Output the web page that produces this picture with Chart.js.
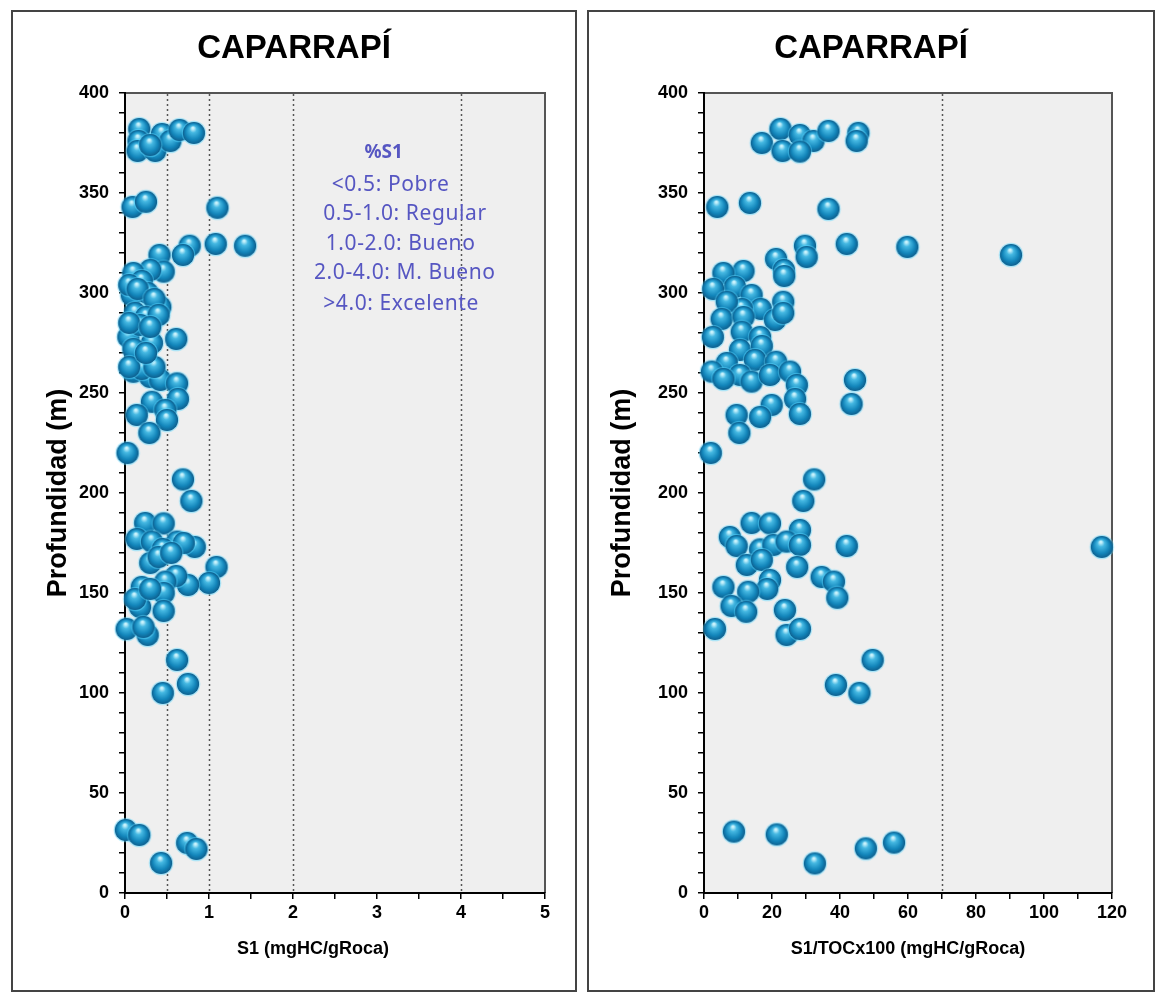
<!DOCTYPE html>
<html>
<head>
<meta charset="utf-8">
<script src="https://cdn.jsdelivr.net/npm/chart.js@4.4.1/dist/chart.umd.min.js"></script>
<style>
  body { margin: 0; background: #fff; width: 1168px; height: 1007px; position: relative; }
  .panel { position: absolute; top: 10px; height: 982px; border: 2px solid #444; box-sizing: border-box; }
  .panel canvas { display: block; }
</style>
</head>
<body>
<div class="panel" style="left:11px;width:566px"><canvas id="leftChart" width="562" height="978"></canvas></div>
<div class="panel" style="left:587px;width:568px"><canvas id="rightChart" width="564" height="978"></canvas></div>
<script>
// Caparrapí - S1 vs depth
const s1Values = [0.17, 0.16, 0.15, 0.36, 0.44, 0.54, 0.65, 0.82, 0.30,
  0.09, 0.25, 1.10,
  1.08, 1.43, 0.77, 0.69, 0.41, 0.46, 0.30, 0.10, 0.20,
  0.08, 0.27, 0.42, 0.04, 0.32, 0.61, 0.22, 0.10, 0.30, 0.42, 0.62, 0.63, 0.32, 0.14, 0.48, 0.50, 0.29, 0.03,
  0.05, 0.15, 0.35, 0.12, 0.25, 0.40, 0.18, 0.05, 0.30, 0.10, 0.20, 0.35, 0.05, 0.25,
  0.69, 0.79,
  0.24, 0.46, 0.14, 0.32, 0.62, 0.83, 0.70, 0.45, 0.30, 0.40, 1.09, 0.55,
  1.00, 0.75, 0.61, 0.48, 0.20, 0.46, 0.18, 0.46, 0.02, 0.27, 0.22, 0.12, 0.30,
  0.62, 0.75, 0.45,
  0.01, 0.17, 0.43, 0.74, 0.85];
const s1Depths = [382, 376, 371, 371, 379.5, 376, 381.5, 380, 374,
  343, 345.6, 342.6,
  324.5, 323.6, 323.6, 319, 319, 310.7, 311.5, 310, 306,
  299, 300, 293, 278, 275, 277, 266.5, 260.6, 258, 256.5, 254.8, 247, 245.6, 239, 241.5, 236.5, 230, 220,
  304, 302, 297, 290, 288, 289, 284, 285, 283, 272, 262, 263, 263, 270,
  206.8, 196,
  185, 184.8, 177, 175.7, 175.7, 173, 175, 172, 165, 168, 163, 170,
  155, 154, 158.5, 155.7, 153, 150, 143, 141, 132, 129, 133, 147, 152,
  116.5, 104.5, 100,
  31.5, 29, 15, 25, 22];

// Caparrapí - S1/TOC x100 vs depth
const ratioValues = [22.5, 28.2, 32.2, 36.6, 45.4, 44.9, 17, 23.1, 28.2,
  3.9, 13.5, 36.6,
  29.7, 30.2, 42, 59.8, 90.3,
  21.2, 23.5, 23.6, 11.6, 5.7, 9.1, 2.7, 14, 23.3, 16.7, 11.1, 6.7, 5.2, 11.6, 20.9, 23.3,
  2.6, 11.1, 16.5, 10.6, 17, 15, 21.2, 6.7, 2.3, 10.6, 14, 19.4, 25.3, 27.3, 26.8, 28.2, 19.9, 16.5, 9.6, 10.4, 2, 44.4, 43.4, 5.7,
  32.4, 29.2, 14, 19.4, 28.2, 7.6, 9.6, 16.5, 20.4, 24.3, 28.2, 42, 117, 12.6, 17, 27.4, 34.6, 38.2, 39.2, 19.4, 18.6, 13, 5.7, 8.1, 12.4, 23.8, 24.3, 28.2, 3.2, 49.6, 38.8, 45.7,
  8.8, 21.4, 32.6, 47.6, 55.9];
const ratioDepths = [382, 379, 376, 381, 380, 376, 375, 371, 370.7,
  343, 345, 342,
  323.6, 318, 324.5, 323, 319,
  317, 311.5, 308.5, 311, 310, 303, 302, 299, 295.6, 292, 292, 295.6, 287, 288, 286.5, 290,
  278, 280.6, 278, 271.5, 273.5, 266.5, 265.6, 265, 260.7, 259, 255.7, 259, 260.7, 254, 247, 239.5, 244, 238, 239, 230, 220, 256.5, 244.5, 257,
  206.8, 196, 185, 184.8, 181.5, 178, 173.5, 171.8, 174, 175.7, 174, 173.5, 173, 164, 166.5, 163, 158, 155.7, 147.6, 156.5, 152, 150.6, 153, 143.5, 140.6, 141.5, 129, 132, 132, 116.5, 104, 100,
  30.7, 29.3, 14.8, 22.3, 25.2];

const s1Limits = [0.5, 1, 2, 4];
const ratioLimits = [70];
const s1Classes = ['<0.5: Pobre', '0.5-1.0: Regular', '1.0-2.0: Bueno', '2.0-4.0: M. Bueno', '>4.0: Excelente'];

// blue glossy ball used as point style
function makeBall() {
  const c = document.createElement('canvas');
  c.width = 28; c.height = 28;
  const g = c.getContext('2d');
  const cx = 14, cy = 14;
  g.fillStyle = 'rgba(90,215,255,0.45)';
  g.beginPath(); g.arc(cx, cy, 12.3, 0, Math.PI * 2); g.fill();
  const grad = g.createRadialGradient(cx - 1, cy - 5, 1, cx, cy + 1, 12.5);
  grad.addColorStop(0, '#c8f2fc');
  grad.addColorStop(0.22, '#45b8e2');
  grad.addColorStop(0.6, '#1386bb');
  grad.addColorStop(1, '#0a4c78');
  g.fillStyle = grad;
  g.beginPath(); g.arc(cx, cy, 11.1, 0, Math.PI * 2); g.fill();
  return c;
}
const ball = makeBall();

const plotFrame = {
  id: 'plotFrame',
  beforeDraw(chart) {
    const {ctx, chartArea: a} = chart;
    ctx.save();
    ctx.fillStyle = '#efefef';
    ctx.fillRect(a.left, a.top, a.right - a.left, a.bottom - a.top);
    ctx.strokeStyle = '#555';
    ctx.lineWidth = 2;
    ctx.beginPath();
    ctx.moveTo(a.left, a.top); ctx.lineTo(a.right, a.top); ctx.lineTo(a.right, a.bottom);
    ctx.stroke();
    ctx.restore();
  },
  beforeDatasetsDraw(chart, args, opts) {
    const {ctx, chartArea: a, scales: {x}} = chart;
    ctx.save();
    ctx.strokeStyle = '#555';
    ctx.lineWidth = 1.5;
    ctx.setLineDash([2, 3]);
    (opts.lines || []).forEach(v => {
      const px = Math.round(x.getPixelForValue(v)) + 0.5;
      ctx.beginPath(); ctx.moveTo(px, a.top + 1); ctx.lineTo(px, a.bottom); ctx.stroke();
    });
    ctx.restore();
  },
  afterDraw(chart, args, opts) {
    const {ctx, chartArea: a, width} = chart;
    ctx.save();
    ctx.fillStyle = '#000';
    ctx.textAlign = 'center';
    ctx.textBaseline = 'middle';
    // panel title, centred on the whole panel
    ctx.font = 'bold 33px "Liberation Sans", Arial, sans-serif';
    ctx.fillText('CAPARRAPÍ', width / 2, 37);
    // x axis caption
    ctx.font = 'bold 18px "Liberation Sans", Arial, sans-serif';
    ctx.fillText(opts.caption, (a.left + a.right) / 2 + (opts.shift || 0), a.bottom + 56);
    ctx.restore();
  }
};

const classBox = {
  id: 'classBox',
  afterDatasetsDraw(chart) {
    const {ctx, scales: {x, y}} = chart;
    ctx.save();
    ctx.fillStyle = '#5656c2';
    ctx.textBaseline = 'middle';
    ctx.textAlign = 'center';
    ctx.font = 'bold 19px "Noto Sans", sans-serif';
    ctx.fillText('%S1', x.getPixelForValue(3.08), y.getPixelForValue(370));
    ctx.textAlign = 'left';
    ctx.font = '21px "Noto Sans", sans-serif';
    ctx.letterSpacing = '0.6px';
    const xs = [2.46, 2.36, 2.39, 2.25, 2.36];
    const ys = [354, 339.5, 324.5, 310, 294.5];
    s1Classes.forEach((t, i) => ctx.fillText(t, x.getPixelForValue(xs[i]), y.getPixelForValue(ys[i])));
    ctx.restore();
  }
};

function buildChart(id, xs, ys, opt) {
  const points = xs.map((v, i) => ({x: v, y: ys[i]}));
  const tickFont = {family: '"Liberation Sans", Arial, sans-serif', size: 18, weight: 'bold'};
  return new Chart(document.getElementById(id), {
    type: 'scatter',
    data: {datasets: [{data: points, pointStyle: ball, pointRadius: 11, clip: false}]},
    options: {
      responsive: false,
      animation: false,
      layout: {padding: {left: 0, right: opt.padRight, top: 81, bottom: 0}},
      plugins: {
        legend: {display: false},
        tooltip: {enabled: false},
        title: {display: false},
        plotFrame: {lines: opt.lines, caption: opt.caption, shift: opt.shift}
      },
      scales: {
        x: {
          type: 'linear', min: 0, max: opt.xMax,
          afterFit(s) { s.height = 97; },
          border: {display: true, color: '#000', width: 2},
          grid: {display: true, drawOnChartArea: false, drawTicks: true, tickLength: 6, color: '#000', lineWidth: 1.5},
          ticks: {
            stepSize: opt.xStep, padding: 3, color: '#000', font: tickFont, maxRotation: 0, autoSkip: false,
            callback: v => (Math.abs(v / opt.xLabelStep - Math.round(v / opt.xLabelStep)) < 1e-6 ? v : '')
          }
        },
        y: {
          type: 'linear', min: 0, max: 400,
          afterFit(s) { s.width = opt.yWidth; },
          border: {display: true, color: '#000', width: 2},
          grid: {display: true, drawOnChartArea: false, drawTicks: true, tickLength: 6, color: '#000', lineWidth: 1.5},
          ticks: {
            stepSize: 10, padding: 10, color: '#000', font: tickFont, autoSkip: false,
            callback: v => (v % 50 === 0 ? v : '')
          },
          title: {
            display: true, text: 'Profundidad (m)', color: '#000',
            font: {family: '"Liberation Sans", Arial, sans-serif', size: 27, weight: 'bold', lineHeight: 1.2},
            padding: {top: opt.yTitlePad, bottom: 0}
          }
        }
      }
    },
    plugins: opt.extra ? [plotFrame, opt.extra] : [plotFrame]
  });
}

buildChart('leftChart', s1Values, s1Depths, {
  xMax: 5, xStep: 0.5, xLabelStep: 1, lines: s1Limits, padRight: 30, yWidth: 112, yTitlePad: 29,
  caption: 'S1 (mgHC/gRoca)', shift: -22, extra: classBox
});
buildChart('rightChart', ratioValues, ratioDepths, {
  xMax: 120, xStep: 10, xLabelStep: 20, lines: ratioLimits, padRight: 41, yWidth: 115, yTitlePad: 17,
  caption: 'S1/TOCx100 (mgHC/gRoca)', shift: 0
});
</script>
</body>
</html>
